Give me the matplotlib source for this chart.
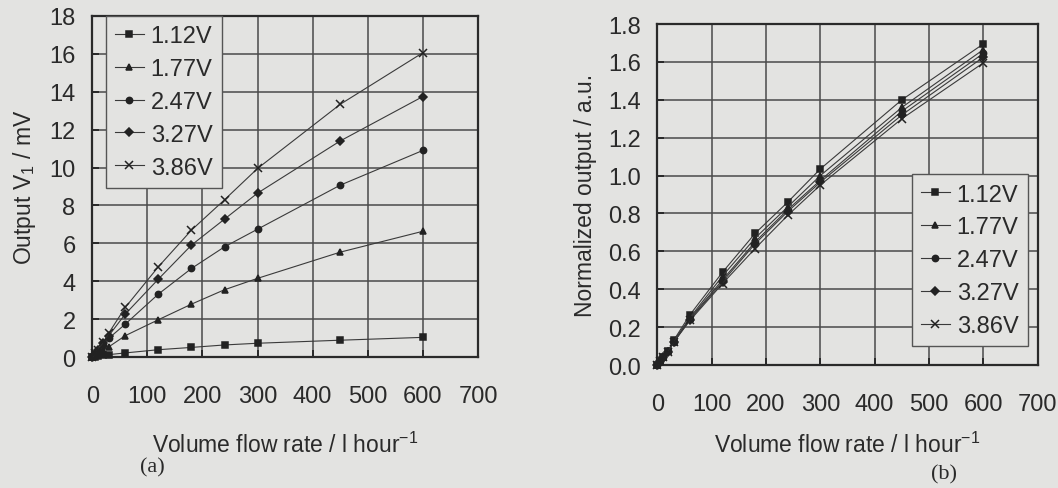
import matplotlib
matplotlib.use('Agg')
import matplotlib.pyplot as plt

plt.rcParams['font.family'] = ['Liberation Sans', 'DejaVu Sans']
plt.rcParams['mathtext.default'] = 'regular'

# flow rate (l/hour)
FLOW = [0, 5, 10, 20, 30, 60, 120, 180, 240, 300, 450, 600]
LABELS = ['1.12V', '1.77V', '2.47V', '3.27V', '3.86V']
MARKERS = ['s', '^', 'o', 'D', 'x']

# (a) output V1 / mV
OUT_112 = [0, 0.03, 0.06, 0.10, 0.14, 0.23, 0.40, 0.52, 0.65, 0.74, 0.90, 1.05]
OUT_177 = [0, 0.10, 0.20, 0.38, 0.55, 1.14, 1.98, 2.80, 3.56, 4.16, 5.54, 6.64]
OUT_247 = [0, 0.15, 0.30, 0.65, 1.00, 1.75, 3.33, 4.68, 5.82, 6.75, 9.07, 10.90]
OUT_327 = [0, 0.18, 0.37, 0.75, 1.14, 2.28, 4.12, 5.91, 7.28, 8.65, 11.40, 13.74]
OUT_386 = [0, 0.20, 0.40, 0.80, 1.28, 2.63, 4.77, 6.70, 8.30, 9.95, 13.33, 16.05]

# (b) normalized output / a.u.
NORM_112 = [0, 0.02, 0.04, 0.075, 0.13, 0.265, 0.49, 0.695, 0.86, 1.035, 1.40, 1.695]
NORM_177 = [0, 0.02, 0.04, 0.075, 0.125, 0.25, 0.47, 0.67, 0.835, 1.00, 1.36, 1.665]
NORM_247 = [0, 0.02, 0.04, 0.075, 0.12, 0.245, 0.45, 0.65, 0.82, 0.975, 1.34, 1.645]
NORM_327 = [0, 0.02, 0.04, 0.07, 0.12, 0.24, 0.44, 0.64, 0.81, 0.965, 1.32, 1.625]
NORM_386 = [0, 0.02, 0.04, 0.07, 0.12, 0.235, 0.43, 0.615, 0.79, 0.95, 1.30, 1.595]

PAPER = '#e3e3e1'
INK = '#2a2a2a'
GRID = '#4a4a4a'
FS = 17

fig = plt.figure(figsize=(10.58, 4.89), dpi=100, facecolor=PAPER)
ax_a = fig.add_axes([0.0872, 0.2673, 0.3646, 0.6986])
ax_b = fig.add_axes([0.6213, 0.2515, 0.3595, 0.6973])


def style_axes(ax, yticks, yfmt):
    ax.set_facecolor(PAPER)
    ax.set_xlim(0, 700)
    ax.set_xticks(range(0, 701, 100))
    ax.set_yticks(yticks)
    ax.set_ylim(yticks[0], yticks[-1])
    ax.set_yticklabels([yfmt.format(v) for v in yticks])
    ax.grid(True, color=GRID, linewidth=1.1)
    ax.set_axisbelow(True)
    for sp in ax.spines.values():
        sp.set_color(INK)
        sp.set_linewidth(1.6)
    ax.tick_params(direction='in', length=5, width=1.4, color=INK,
                   labelsize=FS, labelcolor=INK)
    ax.tick_params(axis='x', pad=20)
    ax.tick_params(axis='y', pad=12)


def draw_series(ax, series):
    for vals, lab, mk in zip(series, LABELS, MARKERS):
        ms = 6 if mk == 'x' else 4.5
        ax.plot(FLOW, vals, marker=mk, color='#3a3a3a', linewidth=0.8,
                markersize=ms, markerfacecolor='#222222',
                markeredgecolor='#222222', markeredgewidth=1.1,
                label=lab, clip_on=False, zorder=3)


def draw_legend(ax, anchor):
    leg = ax.legend(loc='upper left', bbox_to_anchor=anchor,
                    borderaxespad=0, fontsize=FS, frameon=True,
                    fancybox=False, handlelength=1.2, handletextpad=0.3,
                    labelspacing=0.46, borderpad=0.4)
    leg.get_frame().set_facecolor(PAPER)
    leg.get_frame().set_edgecolor('#555555')
    leg.get_frame().set_linewidth(1.0)
    leg.get_frame().set_alpha(1)
    for t in leg.get_texts():
        t.set_color(INK)


style_axes(ax_a, list(range(0, 19, 2)), '{:d}')
draw_series(ax_a, [OUT_112, OUT_177, OUT_247, OUT_327, OUT_386])
draw_legend(ax_a, (0.035, 1.0))
ax_a.set_ylabel('Output V$_1$ / mV', fontsize=16.5, color=INK, labelpad=8)
ax_a.set_xlabel('Volume flow rate / l hour$^{-1}$', fontsize=16.5, color=INK,
                labelpad=18)

b_ticks = [round(0.2 * i, 1) for i in range(10)]
style_axes(ax_b, b_ticks, '{:.1f}')
draw_series(ax_b, [NORM_112, NORM_177, NORM_247, NORM_327, NORM_386])
draw_legend(ax_b, (0.669, 0.56))
ax_b.set_ylabel('Normalized output / a.u.', fontsize=16.5, color=INK, labelpad=8)
ax_b.set_xlabel('Volume flow rate / l hour$^{-1}$', fontsize=16.5, color=INK,
                labelpad=12)

fig.text(152 / 1058, 1 - 468 / 489, '(a)', fontsize=16, color=INK,
         family='Liberation Serif', ha='center', va='center')
fig.text(944 / 1058, 1 - 475 / 489, '(b)', fontsize=16, color=INK,
         family='Liberation Serif', ha='center', va='center')

fig.savefig('out.png', dpi=100, facecolor=PAPER)
